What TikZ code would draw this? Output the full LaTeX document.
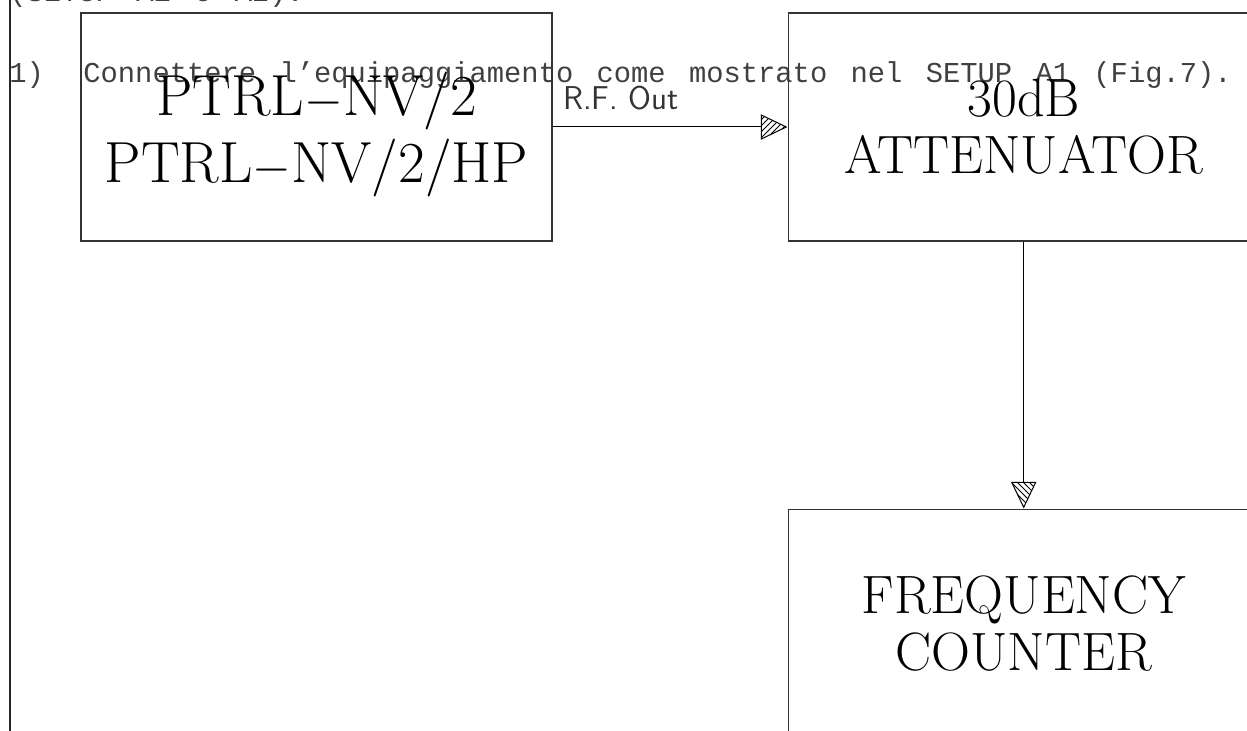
\documentclass[tikz,border=0pt]{standalone}
\usepackage{fontspec}
\usepackage{tikz}
\usetikzlibrary{positioning}
\usetikzlibrary{shapes.geometric}
\usetikzlibrary{patterns}
\newfontfamily\noteFont[WordSpace=1.35]{Liberation Mono}
\def\boxWidth{235.5pt}
\def\boxHeight{114pt}
\def\boxFont{\fontsize{27}{28.5}\selectfont}
\tikzset{% block diagram styles
  block/.style = {draw=black!80, line width=0.6pt, rectangle, minimum width=\boxWidth,
    minimum height=\boxHeight, align=center, inner sep=0, font=\boxFont},
  hatchTip/.style = {draw, isosceles triangle, isosceles triangle stretches, inner sep=0,
    minimum width=12pt, minimum height=12.5pt, line width=0.5pt},
  note/.style = {inner sep=0, anchor=base west, text=black!75,
    font=\noteFont\fontsize{14.4}{17}\selectfont},
  lbl/.style = {inner sep=0, anchor=base west, text=black!80,
    font=\sffamily\fontsize{16.5}{18}\selectfont},
}
\begin{document}
\begin{tikzpicture}[x=0.5pt, y=-0.5pt]
  \useasboundingbox (0,0) rectangle (1247,731);

  % margin rule
  \draw[line width=1.2pt, black!85] (10,0) -- (10,731);

  % Page text
  \node[note] (setup) at (9,2) {(SETUP A1 e A2).};
  \node[note] (stepNo) at (9,83) {1)};
  \node[note] (intro) at (83,83) {Connettere l’equipaggiamento come mostrato nel SETUP A1 (Fig.7).};

  % Blocks
  \node[block, font=\fontsize{29}{33.5}\selectfont, text depth=0pt] (Source) at (316.5,127) {PTRL$-$NV/2\\PTRL$-$NV/2/HP};
  \node[block, right=117.5pt of Source] (Attenuator) {30dB\\ATTENUATOR};
  \node[block, below=133.5pt of Attenuator] (Counter) {FREQUENCY\\COUNTER};

  % Connections
  \node[hatchTip, anchor=apex, pattern=north east lines] (tipA) at (Attenuator.west) {};
  \draw[line width=0.5pt] (Source.east) -- (tipA);
  \node[lbl] (rfLabel) at ([xshift=5pt, yshift=8.75pt]Source.east) {R.F. Out};

  \node[hatchTip, shape border rotate=-90, anchor=apex, pattern=north west lines] (tipB) at (Counter.north) {};
  \draw[line width=0.5pt] (Attenuator.south) -- (tipB);
\end{tikzpicture}
\end{document}
